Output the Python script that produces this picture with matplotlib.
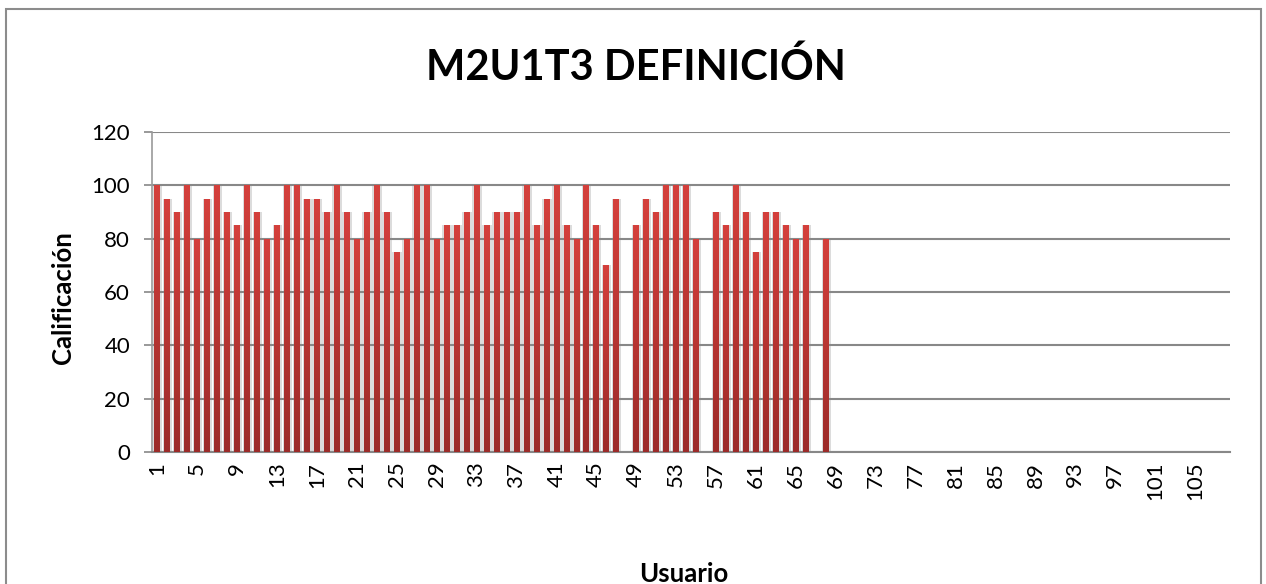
import matplotlib.pyplot as plt
import matplotlib.patches as mpatches
import numpy as np
from matplotlib.colors import LinearSegmentedColormap

# Scores per user (users 1..68), None = no score
scores = [100, 95, 90, 100, 80, 95, 100, 90, 85, 100,
          90, 80, 85, 100, 100, 95, 95, 90, 100, 90,
          80, 90, 100, 90, 75, 80, 100, 100, 80, 85,
          85, 90, 100, 85, 90, 90, 90, 100, 85, 95,
          100, 85, 80, 100, 85, 70, 95, None, 85, 95,
          90, 100, 100, 100, 80, None, 90, 85, 100, 90,
          75, 90, 90, 85, 80, 85, None, 80]
n_users = 108
users = list(range(1, n_users + 1))

plt.rcParams['font.family'] = ['Lato', 'DejaVu Sans']

vals = np.array([s if s is not None else np.nan for s in scores] +
                [np.nan] * (n_users - len(scores)))
x = np.arange(n_users)

fig = plt.figure(figsize=(12.66, 5.84), dpi=100)
ax = fig.add_axes([0.1201, 0.226, 0.8515, 0.548])

# soft grey shadow behind the bars
ax.bar(x + 0.05, vals, width=0.95, color='#dcdcdc', zorder=0.2)
bars = ax.bar(x, vals, width=0.55, color='#bd3733', zorder=3)

# vertical red gradient inside each bar
grad = np.linspace(0, 1, 100).reshape(-1, 1)
cmap = LinearSegmentedColormap.from_list('red', ['#9c2b29', '#d4403c'])
for b in bars:
    h = b.get_height()
    if np.isnan(h) or h == 0:
        continue
    b.set_facecolor('none')
    b.set_edgecolor('none')
    im = ax.imshow(grad, cmap=cmap, aspect='auto', origin='lower',
                   extent=[b.get_x(), b.get_x() + b.get_width(), 0, h], zorder=3)
    im.set_clip_path(b)

ax.set_xlim(-0.5, n_users - 0.5)
ax.set_ylim(0, 120)
ax.set_yticks(range(0, 121, 20))
ax.set_xticks(x[::4])
ax.set_xticklabels([str(u) for u in users[::4]], rotation=90)
ax.tick_params(axis='x', length=0, labelsize=16, pad=7)
ax.tick_params(axis='y', length=5.8, width=1.2, color='#888888', labelsize=16, pad=10)
ax.yaxis.grid(True, color='#888888', linewidth=1.5)
ax.set_axisbelow(True)
for side in ['top', 'right']:
    ax.spines[side].set_visible(False)
ax.spines['left'].set_color('#999999')
ax.spines['left'].set_linewidth(1.2)
ax.spines['bottom'].set_color('#888888')
ax.spines['bottom'].set_linewidth(1.5)

fig.text(0.502, 0.863, 'M2U1T3 DEFINICIÓN', ha='center', va='baseline',
         fontsize=30, fontweight='bold')
fig.text(0.0498, 0.491, 'Calificación', ha='center', va='center', rotation=90,
         fontsize=18.5, fontweight='bold')
fig.text(0.540, 0.004, 'Usuario', ha='center', va='baseline',
         fontsize=18.5, fontweight='bold')

# outer chart border
fig.patches.append(mpatches.Rectangle((6 / 1266, -0.02), 1255 / 1266, 1 - 9 / 584 + 0.02,
                                      transform=fig.transFigure, fill=False,
                                      edgecolor='#8c8c8c', linewidth=1.5))

fig.savefig('out.png', dpi=100)
